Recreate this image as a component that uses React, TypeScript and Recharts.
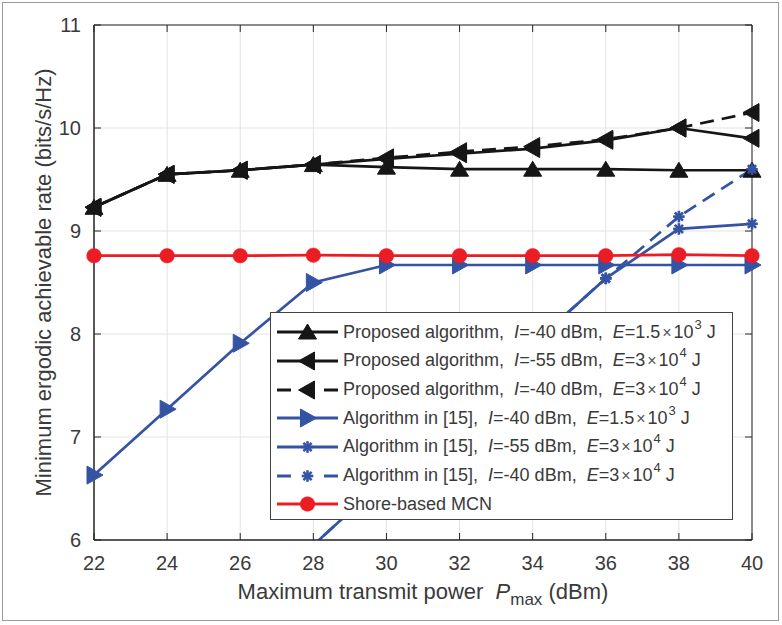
import React from 'react';
import { LineChart, Line, XAxis, YAxis, CartesianGrid, ReferenceArea, Legend } from 'recharts';

const powers = [22, 24, 26, 28, 30, 32, 34, 36, 38, 40];
const propA = [9.23, 9.55, 9.59, 9.645, 9.62, 9.60, 9.60, 9.60, 9.59, 9.59];
const propB = [9.23, 9.55, 9.59, 9.645, 9.70, 9.75, 9.80, 9.88, 10.0, 9.90];
const propC = [9.23, 9.55, 9.59, 9.645, 9.71, 9.77, 9.82, 9.89, 10.0, 10.15];
const algA = [6.63, 7.27, 7.91, 8.50, 8.67, 8.67, 8.67, 8.67, 8.67, 8.67];
const algB = [4.05, 4.7, 5.3, 5.95, 6.6, 7.25, 7.9, 8.54, 9.02, 9.07];
const algC = [4.05, 4.7, 5.3, 5.95, 6.6, 7.25, 7.9, 8.54, 9.14, 9.60];
const shore = [8.76, 8.76, 8.76, 8.765, 8.76, 8.76, 8.76, 8.76, 8.77, 8.76];
const xTicks = [22, 24, 26, 28, 30, 32, 34, 36, 38, 40];
const yTicks = [6, 7, 8, 9, 10, 11];

const data = powers.map((p, i) => ({
  p,
  propA: propA[i],
  propB: propB[i],
  propC: propC[i],
  algA: algA[i],
  algB: algB[i],
  algC: algC[i],
  shore: shore[i],
}));

const W = 782;
const H = 625;
const PLOT_LEFT = 94;
const PLOT_RIGHT = 752;
const PLOT_TOP = 25;
const PLOT_BOTTOM = 540;
const AX = '#262626';
const TXT = '#3a3a3a';
const BLACK = '#161616';
const BLUE = '#3453a4';
const RED = '#ec1c24';
const FONT = '"Liberation Sans", Arial, Helvetica, sans-serif';
const LW = 2.7;

type MarkerKind = 'up' | 'left' | 'right' | 'star' | 'circle';

function marker(kind: MarkerKind, cx: number, cy: number, color: string, key?: any) {
  if (cx == null || cy == null || isNaN(cx) || isNaN(cy)) return <g key={key} />;
  if (kind === 'up') {
    return (
      <path key={key} d={`M${cx},${cy - 8} L${cx + 9},${cy + 7} L${cx - 9},${cy + 7} Z`} fill={color} stroke={color} strokeWidth={1} />
    );
  }
  if (kind === 'left') {
    return (
      <path key={key} d={`M${cx - 9},${cy} L${cx + 7},${cy - 9} L${cx + 7},${cy + 9} Z`} fill={color} stroke={color} strokeWidth={1} />
    );
  }
  if (kind === 'right') {
    return (
      <path key={key} d={`M${cx + 9},${cy} L${cx - 7},${cy - 9} L${cx - 7},${cy + 9} Z`} fill={color} stroke={color} strokeWidth={1} />
    );
  }
  if (kind === 'star') {
    const r = 5.8;
    const d = r * 0.7071;
    return (
      <g key={key} stroke={color} strokeWidth={2.6}>
        <line x1={cx - r} y1={cy} x2={cx + r} y2={cy} />
        <line x1={cx} y1={cy - r} x2={cx} y2={cy + r} />
        <line x1={cx - d} y1={cy - d} x2={cx + d} y2={cy + d} />
        <line x1={cx - d} y1={cy + d} x2={cx + d} y2={cy - d} />
      </g>
    );
  }
  return <circle key={key} cx={cx} cy={cy} r={7.3} fill={color} stroke={color} strokeWidth={0.5} />;
}

const dotFn = (kind: MarkerKind, color: string) => (props: any) =>
  marker(kind, props.cx, props.cy, color, `${kind}-${color}-${props.index}`);

const XTick = (props: any) => {
  const { x, payload } = props;
  return (
    <g>
      <line x1={x} x2={x} y1={PLOT_BOTTOM} y2={PLOT_BOTTOM - 7} stroke={AX} strokeWidth={1} />
      <line x1={x} x2={x} y1={PLOT_TOP} y2={PLOT_TOP + 7} stroke={AX} strokeWidth={1} />
      <text x={x} y={PLOT_BOTTOM + 16} dy="0.71em" textAnchor="middle" fontSize={20} fill={TXT} fontFamily={FONT}>
        {payload.value}
      </text>
    </g>
  );
};

const YTick = (props: any) => {
  const { y, payload } = props;
  return (
    <g>
      <line x1={PLOT_LEFT} x2={PLOT_LEFT + 7} y1={y} y2={y} stroke={AX} strokeWidth={1} />
      <line x1={PLOT_RIGHT} x2={PLOT_RIGHT - 7} y1={y} y2={y} stroke={AX} strokeWidth={1} />
      <text x={PLOT_LEFT - 13} y={y} dy="0.36em" textAnchor="end" fontSize={20} fill={TXT} fontFamily={FONT}>
        {payload.value}
      </text>
    </g>
  );
};

const XLabel = () => (
  <text
    x={(PLOT_LEFT + PLOT_RIGHT) / 2}
    y={599}
    textAnchor="middle"
    fontSize={22}
    fill={TXT}
    fontFamily={FONT}
    style={{ whiteSpace: 'pre' }}
  >
    <tspan>{'Maximum transmit power  '}</tspan>
    <tspan fontStyle="italic">P</tspan>
    <tspan dy={6} fontSize={17}>max</tspan>
    <tspan dy={-6}>{' (dBm)'}</tspan>
  </text>
);

const YLabel = () => {
  const cx = 51;
  const cy = (PLOT_TOP + PLOT_BOTTOM) / 2;
  return (
    <text
      x={cx}
      y={cy}
      transform={`rotate(-90 ${cx} ${cy})`}
      textAnchor="middle"
      fontSize={22}
      fill={TXT}
      fontFamily={FONT}
    >
      Minimum ergodic achievable rate (bits/s/Hz)
    </text>
  );
};

type Entry = {
  kind: MarkerKind;
  color: string;
  dashed: boolean;
  name: string;
  I?: string;
  E?: string;
  exp?: string;
};

const entries: Entry[] = [
  { kind: 'up', color: BLACK, dashed: false, name: 'Proposed algorithm,', I: '-40', E: '1.5', exp: '3' },
  { kind: 'left', color: BLACK, dashed: false, name: 'Proposed algorithm,', I: '-55', E: '3', exp: '4' },
  { kind: 'left', color: BLACK, dashed: true, name: 'Proposed algorithm,', I: '-40', E: '3', exp: '4' },
  { kind: 'right', color: BLUE, dashed: false, name: 'Algorithm in [15],', I: '-40', E: '1.5', exp: '3' },
  { kind: 'star', color: BLUE, dashed: false, name: 'Algorithm in [15],', I: '-55', E: '3', exp: '4' },
  { kind: 'star', color: BLUE, dashed: true, name: 'Algorithm in [15],', I: '-40', E: '3', exp: '4' },
  { kind: 'circle', color: RED, dashed: false, name: 'Shore-based MCN' },
];

const LegendBox = () => (
  <div
    style={{
      width: 463,
      height: 208,
      boxSizing: 'border-box',
      border: '1px solid #444',
      background: '#fff',
      paddingTop: 5,
      fontFamily: FONT,
      fontSize: 18,
      color: TXT,
    }}
  >
    {entries.map((e, i) => (
      <div key={i} style={{ display: 'flex', alignItems: 'center', height: 28.67, whiteSpace: 'pre' }}>
        <svg width={72} height={24} style={{ flex: 'none' }}>
          {e.dashed ? (
            <g stroke={e.color} strokeWidth={3}>
              <line x1={6} x2={20} y1={12} y2={12} />
              <line x1={53} x2={67} y1={12} y2={12} />
            </g>
          ) : (
            <line x1={6} x2={67} y1={12} y2={12} stroke={e.color} strokeWidth={3} />
          )}
          {marker(e.kind, 36.5, 12, e.color)}
        </svg>
        <span>
          {e.name}
          {e.I ? (
            <>
              {'  '}
              <i>I</i>
              {`=${e.I} dBm,  `}
              <i>E</i>
              {`=${e.E}`}
              <span style={{ fontSize: 16, margin: '0 2px', color: '#555' }}>×</span>
              {'10'}
              <sup style={{ fontSize: 13, verticalAlign: 'top', position: 'relative', top: -5, marginLeft: 1 }}>{e.exp}</sup>
              {' J'}
            </>
          ) : null}
        </span>
      </div>
    ))}
  </div>
);

export default function App() {
  return (
    <div style={{ position: 'absolute', left: 0, top: 0, width: W, height: H, background: '#fff' }}>
      <div
        style={{
          position: 'absolute',
          left: 2,
          top: 2,
          width: 777,
          height: 619,
          border: '1px solid #9a9a9a',
          boxSizing: 'border-box',
        }}
      />
      <LineChart
        width={W}
        height={H}
        data={data}
        margin={{ top: PLOT_TOP, right: W - PLOT_RIGHT, left: 0, bottom: 0 }}
        style={{ position: 'absolute', left: 0, top: 0 }}
      >
        <CartesianGrid stroke="#e3e3e3" strokeWidth={1} />
        <XAxis
          dataKey="p"
          type="number"
          domain={[22, 40]}
          ticks={xTicks}
          height={H - PLOT_BOTTOM}
          tickLine={false}
          tickSize={0}
          axisLine={{ stroke: AX }}
          tick={XTick}
          label={<XLabel />}
          interval={0}
        />
        <YAxis
          type="number"
          domain={[6, 11]}
          ticks={yTicks}
          allowDataOverflow
          width={PLOT_LEFT}
          tickLine={false}
          tickSize={0}
          axisLine={{ stroke: AX }}
          tick={YTick}
          label={<YLabel />}
          interval={0}
        />
        <ReferenceArea x1={22} x2={40} y1={6} y2={11} fill="none" stroke={AX} strokeWidth={1} />
        <Line dataKey="propA" stroke={BLACK} strokeWidth={LW} isAnimationActive={false} dot={dotFn('up', BLACK)} activeDot={false} />
        <Line dataKey="propB" stroke={BLACK} strokeWidth={LW} isAnimationActive={false} dot={dotFn('left', BLACK)} activeDot={false} />
        <Line dataKey="propC" stroke={BLACK} strokeWidth={LW} strokeDasharray="14 8" isAnimationActive={false} dot={dotFn('left', BLACK)} activeDot={false} />
        <Line dataKey="algA" stroke={BLUE} strokeWidth={LW} isAnimationActive={false} dot={dotFn('right', BLUE)} activeDot={false} />
        <Line dataKey="algB" stroke={BLUE} strokeWidth={LW} isAnimationActive={false} dot={dotFn('star', BLUE)} activeDot={false} />
        <Line dataKey="algC" stroke={BLUE} strokeWidth={LW} strokeDasharray="14 8" isAnimationActive={false} dot={dotFn('star', BLUE)} activeDot={false} />
        <Line dataKey="shore" stroke={RED} strokeWidth={LW} isAnimationActive={false} dot={dotFn('circle', RED)} activeDot={false} />
        <Legend
          layout="vertical"
          align="center"
          verticalAlign="middle"
          content={() => <LegendBox />}
          wrapperStyle={{ position: 'absolute', left: 270, top: 312, width: 463, height: 208, margin: 0 }}
        />
      </LineChart>
    </div>
  );
}
